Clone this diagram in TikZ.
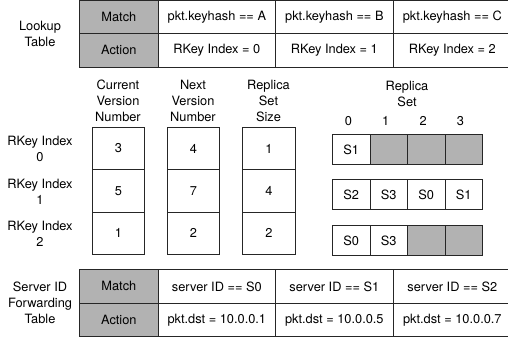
\documentclass[tikz,border=0pt]{standalone}
\usepackage{fontspec}
\setmainfont{TeX Gyre Heros}
\usetikzlibrary{positioning}
\definecolor{cellgray}{gray}{0.7}

\begin{document}
\begin{tikzpicture}[x=1pt,y=-1pt,
    font=\fontsize{12.8}{16}\selectfont,
    box/.style 2 args={draw=black!85, line width=0.7pt, anchor=north west,
        inner sep=0pt, minimum width=#1pt, minimum height=#2pt},
    hdr/.style={align=center, inner sep=0pt},
    lbl/.style={align=center, inner sep=0pt}]
\useasboundingbox (0,0) rectangle (508,341);

% lookup table
\node[box={79}{33},fill=cellgray] (lkm) at (79,0) {Match};
\node[box={79}{34},fill=cellgray] (lka) at (79,33) {Action};
\foreach \k/\x/\w [count=\i from 0] in {A/158/117,B/275/118,C/393/118}{
    \node[box={\w}{33}] (lkm\i) at (\x,0) {pkt.keyhash == \k};
    \node[box={\w}{34}] (lka\i) at (\x,33) {RKey Index = \i};
}
\node[lbl] (lookup) at (40,33.5) {Lookup\\Table};

% register arrays
\foreach \a/\b/\c [count=\i from 0] in {3/4/1,5/7/4,1/2/2}{
    \node[box={52}{42.33}] (cur\i) at (92,{127+\i*42.33}) {\a};
    \node[box={52}{42.33}] (nxt\i) at (167,{127+\i*42.33}) {\b};
    \node[box={53}{42.33}] (siz\i) at (242,{127+\i*42.33}) {\c};
    \node[lbl] (rk\i) at (40,{149+\i*42.5}) {RKey Index\\\i};
}
\node[hdr] (curhdr) at (118,101) {Current\\Version\\Number};
\node[hdr] (nxthdr) at (193,101) {Next\\Version\\Number};
\node[hdr] (sizhdr) at (268.5,101) {Replica\\Set\\Size};

% replica sets
\foreach \s [count=\j from 0] in {S1}
    \node[box={37.5}{30}] (rs0\j) at ({332+\j*37.5},134) {\s};
\foreach \j in {1,2,3}
    \node[box={37.5}{30},fill=cellgray] (rs0\j) at ({332+\j*37.5},134) {};
\foreach \s [count=\j from 0] in {S2,S3,S0,S1}
    \node[box={37.5}{30}] (rs1\j) at ({332+\j*37.5},179) {\s};
\foreach \s [count=\j from 0] in {S0,S3}
    \node[box={37.5}{30}] (rs2\j) at ({332+\j*37.5},225) {\s};
\foreach \j in {2,3}
    \node[box={37.5}{30},fill=cellgray] (rs2\j) at ({332+\j*37.5},225) {};
\foreach \j in {0,...,3}
    \node[inner sep=0pt] (ri\j) at ({348.5+\j*37.3},121) {\j};
\node[hdr] (rshdr) at (407,93.5) {Replica\\Set};

% server forwarding table
\node[box={79}{34},fill=cellgray] (fwm) at (79,269) {Match};
\node[box={79}{33},fill=cellgray] (fwa) at (79,303) {Action};
\foreach \d/\x/\w [count=\i from 0] in {1/158/117,5/275/118,7/393/118}{
    \node[box={\w}{34}] (fwm\i) at (\x,269) {server ID == S\i};
    \node[box={\w}{33}] (fwa\i) at (\x,303) {pkt.dst = 10.0.0.\d};
}
\node[lbl] (fwd) at (40,303) {Server ID\\Forwarding\\Table};
\end{tikzpicture}
\end{document}
